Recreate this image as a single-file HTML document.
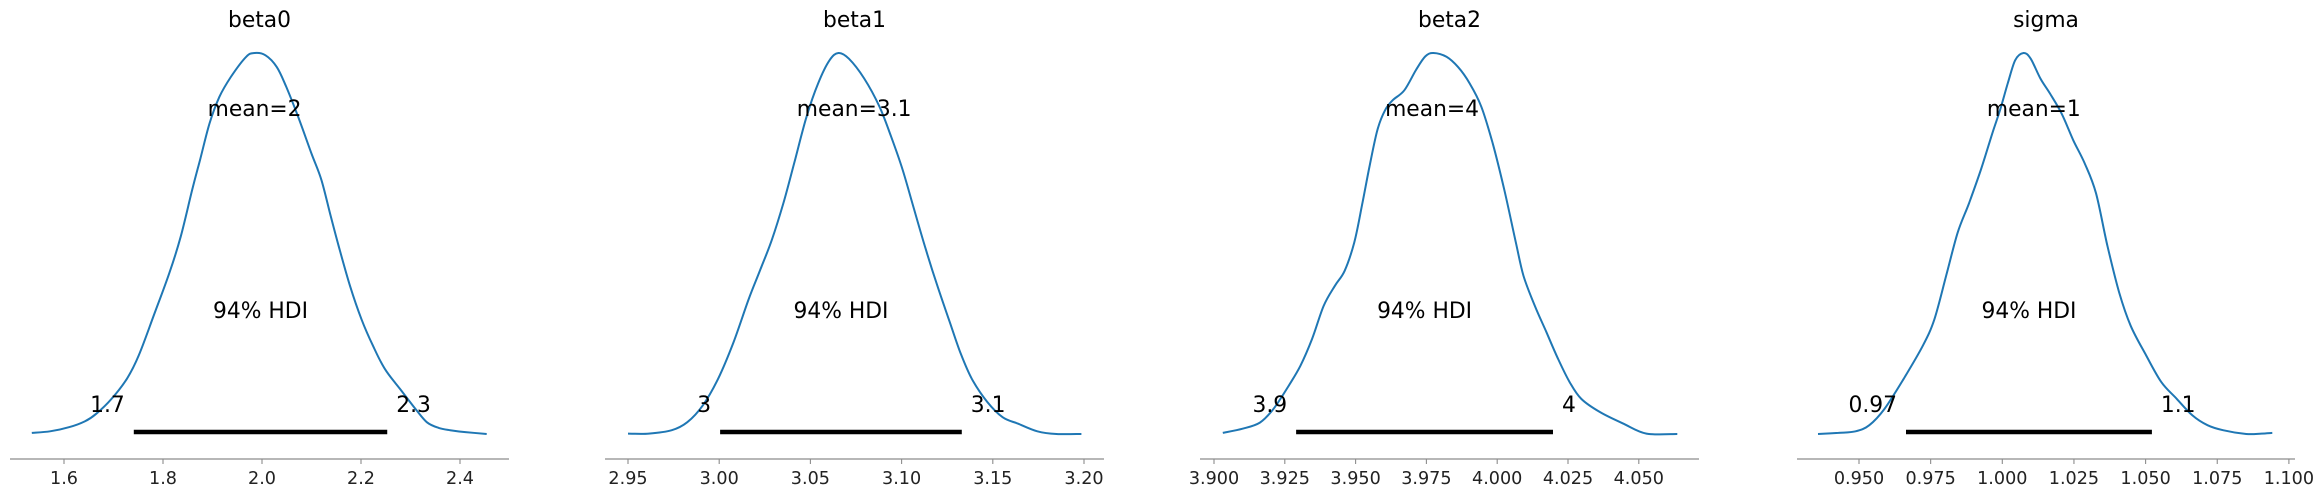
<!DOCTYPE html>
<html><head><meta charset="utf-8"><style>
html,body{margin:0;padding:0;background:#fff;}
svg{display:block;font-family:"DejaVu Sans","Liberation Sans",sans-serif;}
</style></head><body>
<svg id="chart" width="2323" height="497" viewBox="0 0 2323 497" xmlns="http://www.w3.org/2000/svg"></svg>
<script>
// ---- data ----
const titles = ["beta0","beta1","beta2","sigma"];
const meanLabels = ["mean=2","mean=3.1","mean=4","mean=1"];
const meanValues = [1.985, 3.074, 3.977, 1.011];
const hdiLow = [1.741, 3.0005, 3.929, 0.9664];
const hdiHigh = [2.253, 3.133, 4.0197, 1.0522];
const hdiLowLabels = ["1.7","3","3.9","0.97"];
const hdiHighLabels = ["2.3","3.1","4","1.1"];
const ticks0 = [1.6,1.8,2.0,2.2,2.4];
const tickLabels0 = ["1.6","1.8","2.0","2.2","2.4"];
const ticks1 = [2.95,3.00,3.05,3.10,3.15,3.20];
const tickLabels1 = ["2.95","3.00","3.05","3.10","3.15","3.20"];
const ticks2 = [3.900,3.925,3.950,3.975,4.000,4.025,4.050];
const tickLabels2 = ["3.900","3.925","3.950","3.975","4.000","4.025","4.050"];
const ticks3 = [0.950,0.975,1.000,1.025,1.050,1.075,1.100];
const tickLabels3 = ["0.950","0.975","1.000","1.025","1.050","1.075","1.100"];
const kdeX0 = [1.535,1.572,1.611,1.642,1.665,1.696,1.727,1.751,1.781,1.813,1.836,1.859,1.875,1.894,1.914,1.937,1.968,1.985,2.007,2.030,2.049,2.073,2.100,2.120,2.139,2.155,2.178,2.201,2.224,2.248,2.279,2.310,2.333,2.357,2.380,2.411,2.454];
const kdeY0 = [.003,.007,.018,.033,.053,.092,.145,.206,.310,.423,.519,.641,.720,.815,.885,.937,.990,1,.994,.963,.911,.833,.736,.667,.571,.493,.388,.301,.232,.171,.118,.066,.031,.016,.010,.005,0];
const kdeX1 = [2.950,2.9614,2.974,2.9825,2.991,2.9994,3.0078,3.0162,3.0226,3.0289,3.0352,3.0416,3.0479,3.0542,3.0605,3.0654,3.0711,3.0795,3.0879,3.0943,3.1006,3.1069,3.1133,3.1196,3.1259,3.1322,3.1385,3.1470,3.1554,3.1639,3.1744,3.1849,3.1986];
const kdeY1 = [.001,.001,.010,.031,.075,.145,.240,.354,.432,.510,.606,.720,.833,.920,.981,1,.985,.933,.859,.780,.693,.589,.484,.389,.301,.214,.145,.084,.044,.027,.007,0,0];
const kdeX2 = [3.9031,3.9101,3.9162,3.9210,3.9264,3.9305,3.9346,3.9387,3.9427,3.9461,3.9495,3.9522,3.9549,3.9577,3.9604,3.9631,3.9672,3.9713,3.9746,3.9775,3.9821,3.9862,3.9903,3.9944,3.9984,4.0025,4.0066,4.0093,4.0133,4.0174,4.0215,4.0256,4.0297,4.0364,4.0446,4.0527,4.0636];
const kdeY2 = [.003,.014,.030,.066,.127,.179,.249,.336,.389,.428,.502,.598,.702,.798,.850,.876,.902,.955,.991,1,.990,.963,.920,.859,.763,.641,.502,.415,.336,.267,.197,.136,.092,.057,.027,.001,0];
const kdeX3 = [0.9357,0.9428,0.9488,0.9536,0.9589,0.9656,0.9723,0.9763,0.9804,0.9844,0.9884,0.9925,0.9965,0.9992,1.0019,1.0045,1.0074,1.0099,1.0133,1.0166,1.0207,1.0247,1.0287,1.0327,1.0367,1.0408,1.0448,1.0502,1.0555,1.0609,1.0663,1.0716,1.0770,1.0851,1.0904,1.0942];
const kdeY3 = [0,.003,.007,.023,.066,.145,.232,.301,.415,.528,.606,.693,.789,.850,.920,.981,1,.985,.933,.894,.841,.772,.711,.632,.493,.371,.284,.206,.136,.092,.049,.023,.010,0,.001,.003];

const allTicks = [ticks0,ticks1,ticks2,ticks3];
const allTickLabels = [tickLabels0,tickLabels1,tickLabels2,tickLabels3];
const allKdeX = [kdeX0,kdeX1,kdeX2,kdeX3];
const allKdeY = [kdeY0,kdeY1,kdeY2,kdeY3];

// ---- layout (pixels) ----
const axisLeft = [10,605,1200,1797];
const axisRight = [509,1104,1699,2295];
const refPx = [64,628,1214,1859];
const pxPerUnit = [495,1824,2832,2866];
const axisY = 459, baseY = 434, peakH = 381;

const NS = "http://www.w3.org/2000/svg";
const svg = document.getElementById('chart');
function mk(tag, attrs, parent){
  const e = document.createElementNS(NS, tag);
  for (const k in attrs) e.setAttribute(k, attrs[k]);
  (parent||svg).appendChild(e);
  return e;
}
function smoothPath(pts){
  let d = 'M' + pts[0][0].toFixed(1) + ',' + pts[0][1].toFixed(1);
  for (let i = 0; i < pts.length - 1; i++) {
    const p0 = pts[Math.max(0, i-1)], p1 = pts[i], p2 = pts[i+1], p3 = pts[Math.min(pts.length-1, i+2)];
    const c1x = p1[0] + (p2[0]-p0[0])/6, c1y = p1[1] + (p2[1]-p0[1])/6;
    const c2x = p2[0] - (p3[0]-p1[0])/6, c2y = p2[1] - (p3[1]-p1[1])/6;
    d += 'C' + c1x.toFixed(1) + ',' + c1y.toFixed(1) + ' ' + c2x.toFixed(1) + ',' + c2y.toFixed(1) + ' ' + p2[0].toFixed(1) + ',' + p2[1].toFixed(1);
  }
  return d;
}
for (let p = 0; p < 4; p++) {
  const ticks = allTicks[p];
  const x = v => refPx[p] + (v - ticks[0]) * pxPerUnit[p];
  const y = d => baseY - d * peakH;
  const g = mk('g', {});
  
  

  const t = mk('text', {x: (axisLeft[p]+axisRight[p])/2, y: 27, 'font-size': '21.8', 'text-anchor': 'middle', fill: '#000'}, g);
  t.textContent = titles[p];
  
  

  const ax = mk('line', {x1: axisLeft[p], x2: axisRight[p], y1: axisY, y2: axisY, stroke: '#8c8c8c', 'stroke-width': 1.3}, g);
  
  

  ticks.forEach((tv, i) => {
    const tk = mk('line', {x1: x(tv), x2: x(tv), y1: axisY, y2: axisY + 5, stroke: '#8c8c8c', 'stroke-width': 1.1}, g);
    
    
    const tl = mk('text', {x: x(tv), y: 484, 'font-size': '17.6', 'text-anchor': 'middle', fill: '#222'}, g);
    tl.textContent = allTickLabels[p][i];
    
    
  });

  const xs = allKdeX[p], ys = allKdeY[p];
  const pts = xs.map((v, i) => [x(v), y(ys[i])]);
  const path = mk('path', {d: smoothPath(pts), fill: 'none', stroke: '#1f77b4', 'stroke-width': 2, 'stroke-linejoin': 'round'}, g);
  
  

  const hb = mk('line', {x1: x(hdiLow[p]), x2: x(hdiHigh[p]), y1: 432, y2: 432, stroke: '#000', 'stroke-width': 4.5}, g);
  
  

  const ml = mk('text', {x: x(meanValues[p]), y: 116, 'font-size': '21.8', 'text-anchor': 'middle', fill: '#000'}, g);
  ml.textContent = meanLabels[p];
  
  

  const hl = mk('text', {x: (x(hdiLow[p]) + x(hdiHigh[p])) / 2, y: 318, 'font-size': '21.8', 'text-anchor': 'middle', fill: '#000'}, g);
  hl.textContent = '94% HDI';
  
  

  const lo = mk('text', {x: x(hdiLow[p]) - 9, y: 412, 'font-size': '21.8', 'text-anchor': 'end', fill: '#000'}, g);
  lo.textContent = hdiLowLabels[p];
  
  

  const hi = mk('text', {x: x(hdiHigh[p]) + 9, y: 412, 'font-size': '21.8', 'text-anchor': 'start', fill: '#000'}, g);
  hi.textContent = hdiHighLabels[p];
  
  
}
</script>
</body></html>
